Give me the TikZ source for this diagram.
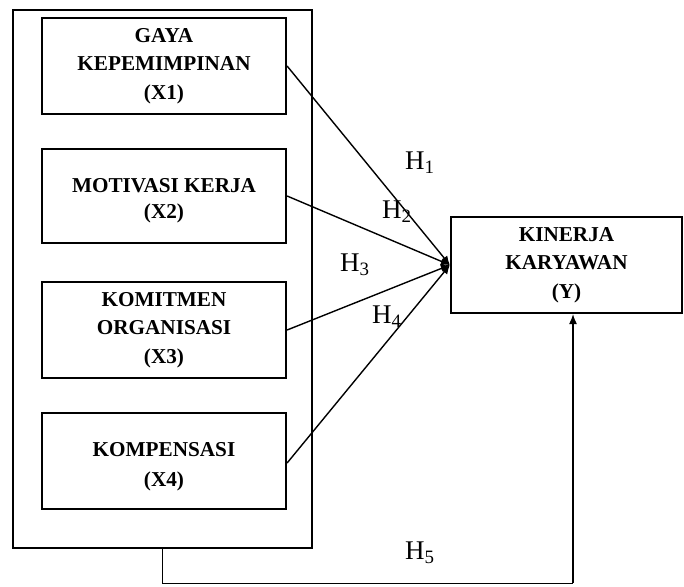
\documentclass[tikz,border=0pt]{standalone}
\usepackage{fontspec}
\setmainfont{Liberation Serif}
\usetikzlibrary{arrows.meta}

\tikzset{
  varbox/.style={draw, line width=2.2pt, minimum width=244pt, align=center,
    font=\fontsize{21.2}{28.5}\selectfont\bfseries, inner sep=0pt},
  hyplabel/.style={anchor=west, inner sep=0pt, font=\fontsize{27}{30}\selectfont},
  path/.style={line width=1.4pt, -{Latex[length=9pt,width=8pt]}}
}

\begin{document}
\begin{tikzpicture}[x=1pt, y=-1pt]
\useasboundingbox (0,0) rectangle (684,586);
\node[draw, line width=2.4pt, minimum width=299pt, minimum height=538pt] (outer) at (162.5,279) {};
\node[varbox, minimum height=96pt] (x1) at (164,66) {GAYA\\KEPEMIMPINAN\\(X1)};
\node[varbox, minimum height=94pt] (x2) at (164,196) {\rule{0pt}{23pt}MOTIVASI KERJA\\[-2.5pt](X2)};
\node[varbox, minimum height=96pt] (x3) at (164,330) {KOMITMEN\\ORGANISASI\\(X3)};
\node[varbox, minimum height=96pt] (x4) at (164,461) {\rule{0pt}{25pt}KOMPENSASI\\[1pt](X4)};
\node[varbox, minimum width=231pt, minimum height=96pt] (y) at (566.5,265) {KINERJA\\KARYAWAN\\(Y)};
\draw[path] (x1.east) -- (y.west);
\draw[path] (x2.east) -- (y.west);
\draw[path] (x3.east) -- (y.west);
\draw[path] ([yshift=-2pt]x4.east) -- (y.west);
\coordinate (turn) at (573,583);
\draw[line width=0.8pt] (outer.south) |- (turn);
\draw[line width=1.2pt, -{Latex[length=10pt,width=8pt]}] (turn) -- (turn |- y.south);
\node[hyplabel] (h1) at (405,163) {H\textsubscript{1}};
\node[hyplabel] (h2) at (382,212) {H\textsubscript{2}};
\node[hyplabel] (h3) at (340,265) {H\textsubscript{3}};
\node[hyplabel] (h4) at (372,317) {H\textsubscript{4}};
\node[hyplabel] (h5) at (405,553) {H\textsubscript{5}};
\end{tikzpicture}
\end{document}
